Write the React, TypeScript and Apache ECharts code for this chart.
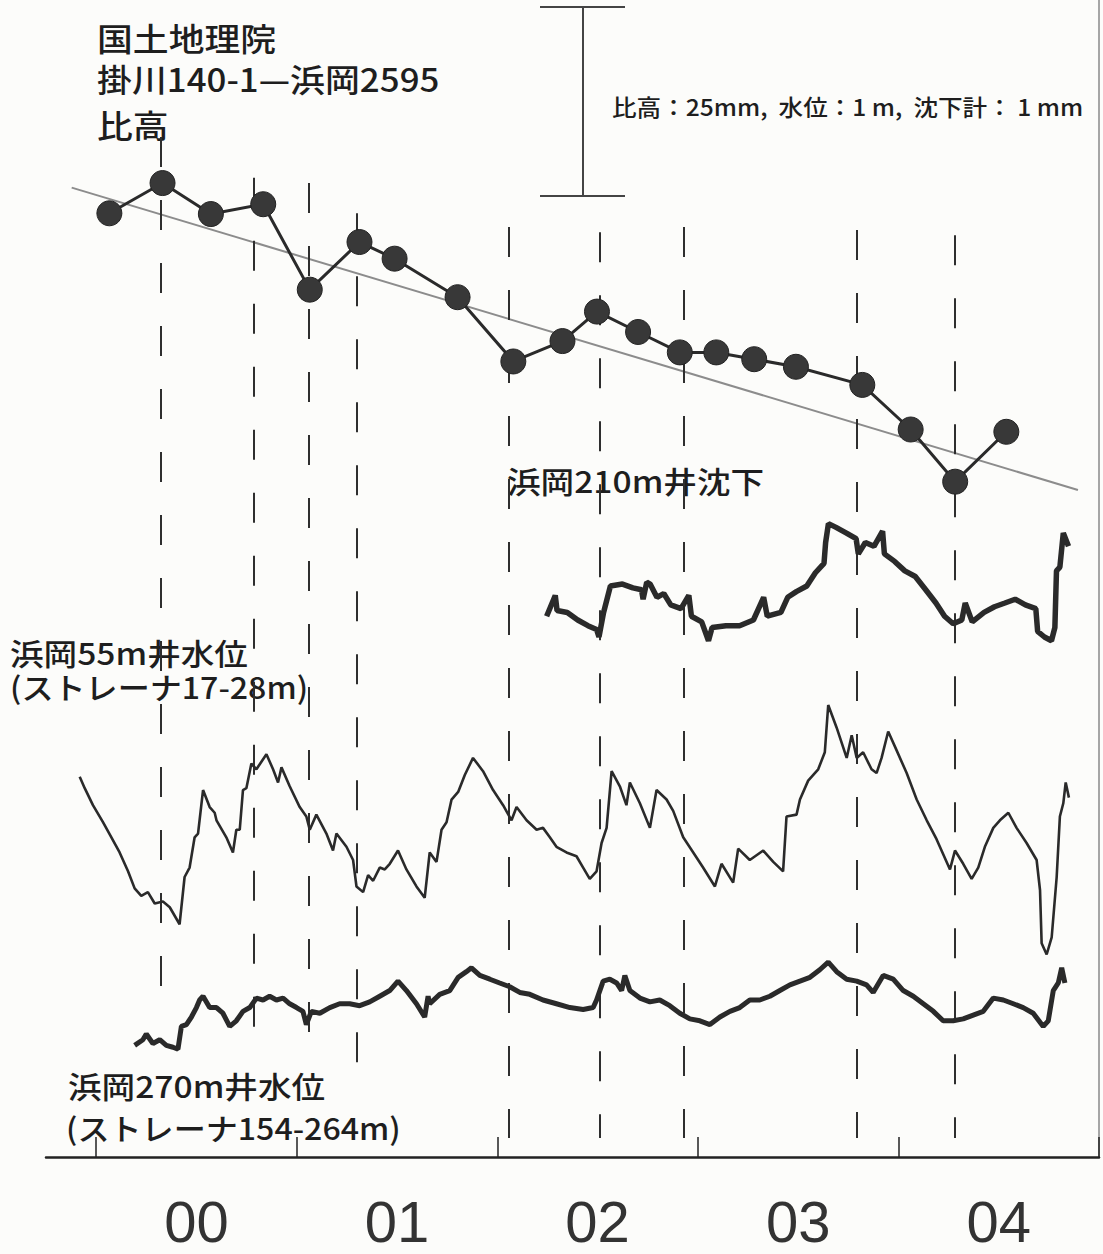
import React, { useEffect, useRef } from "react";
import * as echarts from "echarts";

// ---- Leveling (比高) survey: date (decimal year), relative height (mm)
const levelingDates = [
  2000.066, 2000.331, 2000.572, 2000.833, 2001.065, 2001.313, 2001.488, 2001.802,
  2002.080, 2002.325, 2002.497, 2002.702, 2002.910, 2003.092, 2003.281, 2003.489,
  2003.820, 2004.061, 2004.283, 2004.538,
];
const levelingMm = [
  0.0, 4.0, -0.1, 1.2, -10.1, -3.8, -6.0, -11.1,
  -19.6, -16.9, -13.0, -15.7, -18.4, -18.4, -19.3, -20.3,
  -22.7, -28.6, -35.5, -28.9,
];
// Linear trend of the leveling data
const trendDates = [1999.878, 2004.895];
const trendMm = [3.4, -36.6];

// Survey-date guide lines (dashed), extents in leveling units (mm)
const guideDates = [2000.321, 2000.784, 2001.061, 2001.3, 2002.057, 2002.513, 2002.93, 2003.794, 2004.283];
const guideTopMm = [10.1, 4.7, 4.0, 0.0, -1.8, -2.5, -1.8, -2.2, -2.9];
const guideBottomMm = [-104.7, -110.4, -110.7, -114.9, -122.3, -122.3, -122.3, -122.3, -122.3];

// ---- Hamaoka 55 m well water level (m, relative)
const well55Dates = [
  1999.918, 1999.943, 1999.984, 2000.034, 2000.076, 2000.117, 2000.159, 2000.192, 2000.225, 2000.258,
  2000.292, 2000.333, 2000.367, 2000.416, 2000.441, 2000.466, 2000.491, 2000.508, 2000.533, 2000.566,
  2000.591, 2000.6, 2000.649, 2000.682, 2000.699, 2000.716, 2000.732, 2000.749, 2000.774, 2000.799,
  2000.824, 2000.849, 2000.882, 2000.907, 2000.924, 2000.965, 2001.015, 2001.048, 2001.065, 2001.098,
  2001.148, 2001.181, 2001.198, 2001.248, 2001.281, 2001.298, 2001.331, 2001.356, 2001.381, 2001.414,
  2001.439, 2001.464, 2001.505, 2001.547, 2001.597, 2001.638, 2001.663, 2001.697, 2001.722, 2001.747,
  2001.772, 2001.805, 2001.838, 2001.879, 2001.929, 2001.979, 2002.029, 2002.071, 2002.096, 2002.146,
  2002.196, 2002.228, 2002.262, 2002.295, 2002.345, 2002.395, 2002.428, 2002.461, 2002.495, 2002.52,
  2002.545, 2002.57, 2002.611, 2002.644, 2002.661, 2002.711, 2002.761, 2002.794, 2002.844, 2002.877,
  2002.927, 2002.977, 2003.026, 2003.085, 2003.118, 2003.176, 2003.201, 2003.259, 2003.326, 2003.376,
  2003.425, 2003.442, 2003.492, 2003.509, 2003.55, 2003.6, 2003.633, 2003.65, 2003.692, 2003.742,
  2003.767, 2003.792, 2003.824, 2003.866, 2003.891, 2003.916, 2003.949, 2003.991, 2004.041, 2004.091,
  2004.141, 2004.19, 2004.257, 2004.282, 2004.323, 2004.365, 2004.398, 2004.431, 2004.473, 2004.506,
  2004.548, 2004.589, 2004.639, 2004.689, 2004.706, 2004.714, 2004.739, 2004.764, 2004.789, 2004.805,
  2004.822, 2004.834, 2004.85,
];
const well55M = [
  0.44, 0.38, 0.29, 0.2, 0.12, 0.04, -0.06, -0.15, -0.19, -0.17,
  -0.23, -0.22, -0.25, -0.34, -0.09, -0.04, 0.12, 0.14, 0.37, 0.28,
  0.25, 0.21, 0.12, 0.04, 0.16, 0.16, 0.37, 0.38, 0.51, 0.48,
  0.52, 0.56, 0.48, 0.41, 0.49, 0.39, 0.28, 0.23, 0.16, 0.24,
  0.14, 0.05, 0.14, 0.07, 0.0, -0.14, -0.17, -0.08, -0.11, -0.04,
  -0.05, -0.02, 0.05, -0.05, -0.14, -0.2, 0.04, -0.01, 0.16, 0.2,
  0.32, 0.36, 0.45, 0.54, 0.47, 0.37, 0.29, 0.21, 0.28, 0.21,
  0.16, 0.17, 0.12, 0.07, 0.04, 0.02, -0.04, -0.1, -0.06, 0.09,
  0.17, 0.47, 0.39, 0.29, 0.41, 0.3, 0.17, 0.37, 0.32, 0.26,
  0.12, 0.04, -0.04, -0.14, -0.02, -0.12, 0.06, 0.0, 0.05, -0.01,
  -0.06, 0.23, 0.24, 0.32, 0.42, 0.48, 0.57, 0.82, 0.7, 0.54,
  0.66, 0.54, 0.57, 0.48, 0.46, 0.54, 0.68, 0.58, 0.46, 0.32,
  0.21, 0.11, -0.05, 0.05, -0.02, -0.1, -0.04, 0.07, 0.17, 0.21,
  0.25, 0.17, 0.09, 0.0, -0.16, -0.44, -0.5, -0.41, -0.09, 0.23,
  0.3, 0.41, 0.33,
];

// ---- Hamaoka 270 m well water level (m, relative)
const well270Dates = [
  2000.192, 2000.233, 2000.25, 2000.283, 2000.317, 2000.35, 2000.383, 2000.408, 2000.425, 2000.45,
  2000.475, 2000.5, 2000.516, 2000.533, 2000.566, 2000.6, 2000.632, 2000.666, 2000.699, 2000.732,
  2000.766, 2000.799, 2000.832, 2000.865, 2000.899, 2000.932, 2000.965, 2000.999, 2001.031, 2001.048,
  2001.073, 2001.115, 2001.165, 2001.214, 2001.264, 2001.314, 2001.364, 2001.414, 2001.464, 2001.505,
  2001.547, 2001.597, 2001.638, 2001.655, 2001.663, 2001.713, 2001.763, 2001.805, 2001.846, 2001.871,
  2001.913, 2001.963, 2002.012, 2002.062, 2002.112, 2002.162, 2002.228, 2002.295, 2002.362, 2002.428,
  2002.478, 2002.495, 2002.528, 2002.561, 2002.595, 2002.62, 2002.636, 2002.661, 2002.711, 2002.761,
  2002.81, 2002.86, 2002.91, 2002.96, 2003.01, 2003.06, 2003.11, 2003.16, 2003.209, 2003.259,
  2003.309, 2003.359, 2003.409, 2003.459, 2003.509, 2003.559, 2003.608, 2003.65, 2003.692, 2003.742,
  2003.792, 2003.841, 2003.874, 2003.924, 2003.974, 2004.024, 2004.074, 2004.124, 2004.174, 2004.223,
  2004.273, 2004.323, 2004.373, 2004.423, 2004.473, 2004.523, 2004.573, 2004.622, 2004.672, 2004.722,
  2004.747, 2004.772, 2004.797, 2004.814, 2004.83,
];
const well270M = [
  -0.24, -0.21, -0.18, -0.23, -0.21, -0.24, -0.25, -0.26, -0.14, -0.13,
  -0.09, -0.04, 0.0, 0.02, -0.04, -0.04, -0.07, -0.14, -0.11, -0.06,
  -0.04, 0.01, 0.0, 0.02, 0.0, 0.01, -0.02, -0.04, -0.06, -0.13,
  -0.06, -0.07, -0.04, -0.02, -0.02, -0.03, -0.01, 0.02, 0.05, 0.1,
  0.05, -0.02, -0.09, 0.02, -0.02, 0.03, 0.05, 0.12, 0.15, 0.17,
  0.13, 0.11, 0.09, 0.07, 0.04, 0.03, 0.0, -0.02, -0.04, -0.05,
  -0.04, 0.0, 0.1, 0.11, 0.09, 0.05, 0.13, 0.05, 0.01, -0.01,
  0.0, -0.03, -0.07, -0.1, -0.11, -0.13, -0.09, -0.06, -0.04, 0.0,
  0.0, 0.02, 0.05, 0.08, 0.1, 0.12, 0.16, 0.2, 0.15, 0.11,
  0.1, 0.08, 0.04, 0.13, 0.11, 0.05, 0.02, -0.02, -0.06, -0.11,
  -0.11, -0.1, -0.08, -0.06, 0.01, 0.0, -0.02, -0.04, -0.07, -0.14,
  -0.11, 0.05, 0.09, 0.17, 0.09,
];

// ---- Hamaoka 210 m well subsidence meter (mm, relative)
const subsidenceDates = [
  2002.246, 2002.289, 2002.298, 2002.349, 2002.401, 2002.452, 2002.495, 2002.507, 2002.53, 2002.564,
  2002.624, 2002.676, 2002.719, 2002.727, 2002.745, 2002.762, 2002.796, 2002.83, 2002.865, 2002.916,
  2002.955, 2002.968, 2003.019, 2003.053, 2003.071, 2003.14, 2003.208, 2003.277, 2003.328, 2003.346,
  2003.414, 2003.448, 2003.491, 2003.543, 2003.586, 2003.629, 2003.637, 2003.651, 2003.689, 2003.741,
  2003.789, 2003.8, 2003.835, 2003.878, 2003.921, 2003.93, 2003.981, 2004.032, 2004.084, 2004.136,
  2004.187, 2004.23, 2004.273, 2004.316, 2004.333, 2004.368, 2004.427, 2004.479, 2004.531, 2004.582,
  2004.633, 2004.685, 2004.694, 2004.728, 2004.763, 2004.78, 2004.788, 2004.805, 2004.822, 2004.848,
];
const subsidenceMm = [
  0.02, 0.13, 0.05, 0.04, 0.0, -0.03, -0.05, -0.09, 0.04, 0.18,
  0.19, 0.17, 0.16, 0.11, 0.2, 0.19, 0.12, 0.14, 0.08, 0.06,
  0.13, 0.02, -0.01, -0.11, -0.04, -0.03, -0.03, 0.0, 0.12, 0.02,
  0.04, 0.12, 0.15, 0.18, 0.25, 0.3, 0.41, 0.51, 0.49, 0.46,
  0.43, 0.35, 0.41, 0.39, 0.47, 0.35, 0.31, 0.26, 0.23, 0.16,
  0.09, 0.02, -0.02, 0.0, 0.09, -0.01, 0.04, 0.07, 0.09, 0.11,
  0.08, 0.06, -0.06, -0.09, -0.11, -0.04, 0.26, 0.28, 0.46, 0.39,
];

// ---- Axis ticks / labels
const yearTicks = [2000, 2001, 2002, 2003, 2004, 2005];
const yearLabelPositions = [2000.5, 2001.5, 2002.5, 2003.5, 2004.5];
const yearLabels = ["00", "01", "02", "03", "04"];

const W = 1103;
const H = 1254;
const GRID_TOP = 0;
const GRID_BOTTOM = 97;
const PLOT_H = H - GRID_TOP - GRID_BOTTOM;

// vertical scale: zero of each quantity at a pixel row, fixed pixels per unit
function range(zeroPx: number, pxPerUnit: number) {
  const max = (zeroPx - GRID_TOP) / pxPerUnit;
  return { min: max - PLOT_H / pxPerUnit, max };
}

const zip = (xs: number[], ys: number[]) => xs.map((x, i) => [x, ys[i]]);

const INK = "#2a2a2a";
const JP = "'Noto Sans CJK JP', 'Noto Sans', sans-serif";

function jpText(text: string, x: number, y: number, fontSize: number, scaleX = 1.12) {
  return {
    type: "text",
    x,
    y,
    scaleX,
    silent: true,
    style: {
      text,
      fill: "#1e1e1e",
      fontSize,
      fontWeight: 500,
      fontFamily: JP,
      verticalAlign: "top",
      textVerticalAlign: "top",
    },
  };
}

export default function App() {
  const ref = useRef<HTMLDivElement>(null);

  useEffect(() => {
    document.body.style.margin = "0";
    if (!ref.current) return;
    const chart = echarts.init(ref.current, undefined, { renderer: "svg" });

    const lev = range(213.3, 7.56); // 25 mm = 189 px
    const w55 = range(860, 189); // 1 m = 189 px
    const w270 = range(1000, 189);
    const sub = range(620, 189); // 1 mm = 189 px

    const hiddenY = (r: { min: number; max: number }) => ({
      type: "value",
      min: r.min,
      max: r.max,
      show: false,
      splitLine: { show: false },
    });

    const option: any = {
      animation: false,
      backgroundColor: "#fcfcfa",
      grid: { left: 46, right: 4, top: GRID_TOP, bottom: GRID_BOTTOM },
      xAxis: {
        type: "value",
        min: 1999.75,
        max: 2005,
        axisLine: { show: true, onZero: false, lineStyle: { color: "#222", width: 2.5 } },
        axisTick: {
          show: true,
          inside: true,
          length: 20,
          customValues: yearTicks,
          lineStyle: { color: "#222", width: 1.5 },
        },
        axisLabel: {
          show: true,
          customValues: yearLabelPositions,
          formatter: (v: number) => {
            let best = 0;
            yearLabelPositions.forEach((p, i) => {
              if (Math.abs(p - v) < Math.abs(yearLabelPositions[best] - v)) best = i;
            });
            return yearLabels[best];
          },
          fontSize: 58,
          fontFamily: "'Liberation Sans', Arial, sans-serif",
          color: "#333",
          margin: 64,
          verticalAlign: "middle",
        },
        splitLine: { show: false },
      },
      yAxis: [
        {
          type: "value",
          min: lev.min,
          max: lev.max,
          position: "right",
          axisLine: { show: true, onZero: false, lineStyle: { color: "#8a8a8a", width: 1.5 } },
          axisTick: { show: false },
          axisLabel: { show: false },
          splitLine: { show: false },
        },
        hiddenY(w55),
        hiddenY(w270),
        hiddenY(sub),
      ],
      series: [
        {
          name: "比高",
          type: "line",
          yAxisIndex: 0,
          data: zip(levelingDates, levelingMm),
          symbol: "circle",
          symbolSize: 25,
          z: 5,
          lineStyle: { color: INK, width: 3 },
          itemStyle: { color: "#383838", borderColor: "#222", borderWidth: 1 },
          markLine: {
            silent: true,
            symbol: ["none", "none"],
            label: { show: false },
            z: 1,
            data: [
              [
                { coord: [trendDates[0], trendMm[0]], lineStyle: { color: "#8c8c8c", width: 2, type: "solid" } },
                { coord: [trendDates[1], trendMm[1]] },
              ],
              ...guideDates.map((d, i) => [
                { coord: [d, guideTopMm[i]], lineStyle: { color: "#2e2e2e", width: 2, type: [30, 33] } },
                { coord: [d, guideBottomMm[i]] },
              ]),
            ],
          },
        },
        {
          name: "浜岡55m井水位",
          type: "line",
          yAxisIndex: 1,
          data: zip(well55Dates, well55M),
          showSymbol: false,
          lineStyle: { color: INK, width: 2.6 },
        },
        {
          name: "浜岡270m井水位",
          type: "line",
          yAxisIndex: 2,
          data: zip(well270Dates, well270M),
          showSymbol: false,
          lineStyle: { color: INK, width: 5 },
        },
        {
          name: "浜岡210m井沈下",
          type: "line",
          yAxisIndex: 3,
          data: zip(subsidenceDates, subsidenceMm),
          showSymbol: false,
          lineStyle: { color: INK, width: 5.5 },
        },
      ],
      graphic: [
        jpText("国土地理院", 97, 21, 32),
        jpText("掛川140-1—浜岡2595", 97, 62, 32, 1.09),
        jpText("比高", 97, 108, 32),
        jpText("比高：25mm,  水位：1 m,  沈下計： 1 mm", 612, 94, 23, 1.07),
        jpText("浜岡210m井沈下", 507, 465, 30),
        jpText("浜岡55m井水位", 10, 637, 30),
        jpText("(ストレーナ17-28m)", 10, 671, 30, 1.07),
        jpText("浜岡270m井水位", 68, 1070, 30),
        jpText("(ストレーナ154-264m)", 66, 1112, 30, 1.07),
        // scale bar
        { type: "line", silent: true, shape: { x1: 583, y1: 7, x2: 583, y2: 196 }, style: { stroke: "#444", lineWidth: 2 } },
        { type: "line", silent: true, shape: { x1: 540, y1: 7, x2: 625, y2: 7 }, style: { stroke: "#444", lineWidth: 2 } },
        { type: "line", silent: true, shape: { x1: 540, y1: 196, x2: 625, y2: 196 }, style: { stroke: "#444", lineWidth: 2 } },
      ],
    };

    chart.setOption(option);
    return () => chart.dispose();
  }, []);

  return <div ref={ref} style={{ width: W, height: H }} />;
}
